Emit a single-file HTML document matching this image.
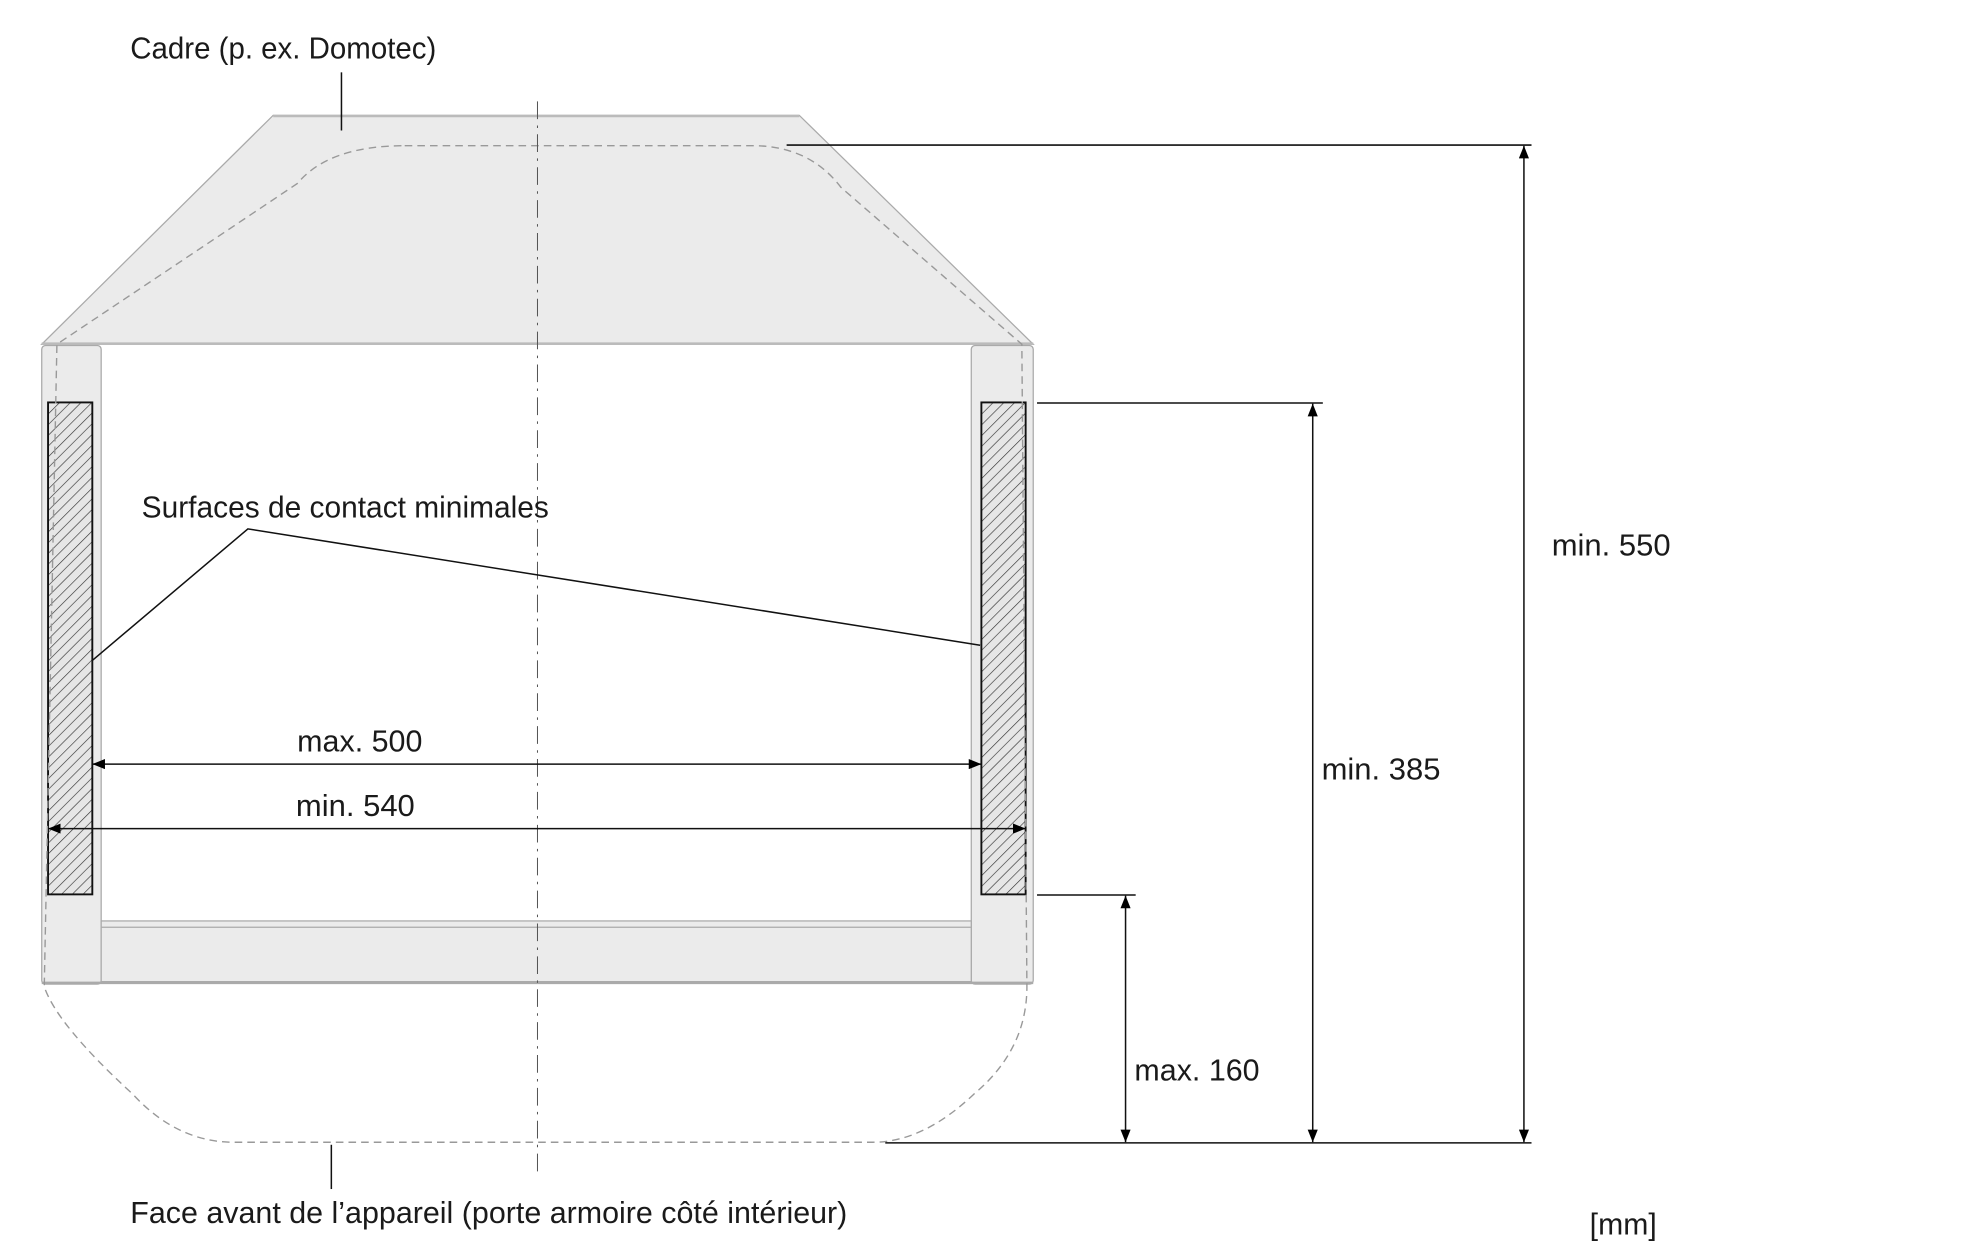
<!DOCTYPE html>
<html><head><meta charset="utf-8"><style>
html,body{margin:0;padding:0;background:#fff;}
svg{display:block;}
text{font-family:"Liberation Sans Narrow","Liberation Sans",sans-serif;font-size:24px;fill:#1a1a1a;}
</style></head><body>
<svg width="1983" height="1250" viewBox="0 0 1568 988" xmlns="http://www.w3.org/2000/svg">
<defs>
<pattern id="h" width="6" height="6" patternUnits="userSpaceOnUse" patternTransform="rotate(45)">
<rect width="6" height="6" fill="#e6e6e6"/><line x1="0" y1="0" x2="0" y2="6" stroke="#333" stroke-width="1"/>
</pattern>
<marker id="a" markerWidth="10" markerHeight="8" refX="10" refY="4" orient="auto" markerUnits="userSpaceOnUse"><path d="M0,0 L10,4 L0,8z" fill="#000"/></marker>
<marker id="s" markerWidth="10" markerHeight="8" refX="0" refY="4" orient="auto" markerUnits="userSpaceOnUse"><path d="M10,0 L0,4 L10,8z" fill="#000"/></marker>
</defs>
<path d="M216,91 L632,91 L817,272 L33,272 Z" fill="#ebebeb" stroke="#aaa" stroke-width="1"/>
<line x1="216" y1="91.5" x2="632" y2="91.5" stroke="#bbb" stroke-width="2"/>
<line x1="33" y1="271.5" x2="817" y2="271.5" stroke="#bbb" stroke-width="2"/>
<rect x="33" y="273" width="47" height="505" fill="#ebebeb" stroke="#aaa" stroke-width="1" rx="3"/>
<rect x="768" y="273" width="49" height="505" fill="#ebebeb" stroke="#aaa" stroke-width="1" rx="3"/>
<rect x="80" y="728" width="688" height="48" fill="#ebebeb" stroke="#aaa" stroke-width="1"/>
<line x1="80" y1="733" x2="768" y2="733" stroke="#aaa" stroke-width="1"/>
<line x1="33" y1="777" x2="817" y2="777" stroke="#aaa" stroke-width="2"/>
<rect x="38" y="318" width="35" height="389" fill="url(#h)" stroke="#111" stroke-width="1.5"/>
<rect x="776" y="318" width="35" height="389" fill="url(#h)" stroke="#111" stroke-width="1.5"/>
<path d="M320,115 L595,115 Q640,115 665,148 L808,272 L812,780 Q812,830 770,865 Q730,903 690,903 L185,903 Q140,903 105,865 Q45,810 35,780 L45,272 L235,145 Q260,115 320,115 Z" fill="none" stroke="#999" stroke-width="1.1" stroke-dasharray="6,4"/>
<line x1="425" y1="80" x2="425" y2="928" stroke="#555" stroke-width="0.8" stroke-dasharray="14,5,2,5"/>
<g stroke="#111" stroke-width="1.2" fill="none">
<line x1="622" y1="114.5" x2="1211" y2="114.5"/>
<line x1="700" y1="903.5" x2="1211" y2="903.5"/>
<line x1="820" y1="318.5" x2="1046" y2="318.5"/>
<line x1="820" y1="707.5" x2="898" y2="707.5"/>
<line x1="1205" y1="115" x2="1205" y2="903" marker-start="url(#s)" marker-end="url(#a)"/>
<line x1="1038" y1="319" x2="1038" y2="903" marker-start="url(#s)" marker-end="url(#a)"/>
<line x1="890" y1="708" x2="890" y2="903" marker-start="url(#s)" marker-end="url(#a)"/>
<line x1="73" y1="604" x2="776" y2="604" marker-start="url(#s)" marker-end="url(#a)"/>
<line x1="38" y1="655" x2="811" y2="655" marker-start="url(#s)" marker-end="url(#a)"/>
<line x1="270" y1="57" x2="270" y2="103"/>
<line x1="262" y1="905" x2="262" y2="940"/>
<polyline points="73,522 196,418 775,510"/>
</g>
<text x="103" y="46" textLength="242" lengthAdjust="spacingAndGlyphs">Cadre (p. ex. Domotec)</text>
<text x="112" y="409" textLength="322" lengthAdjust="spacingAndGlyphs">Surfaces de contact minimales</text>
<text x="235" y="594" textLength="99" lengthAdjust="spacingAndGlyphs">max. 500</text>
<text x="234" y="645" textLength="94" lengthAdjust="spacingAndGlyphs">min. 540</text>
<text x="1227" y="439" textLength="94" lengthAdjust="spacingAndGlyphs">min. 550</text>
<text x="1045" y="616" textLength="94" lengthAdjust="spacingAndGlyphs">min. 385</text>
<text x="897" y="854" textLength="99" lengthAdjust="spacingAndGlyphs">max. 160</text>
<text x="103" y="967" textLength="567" lengthAdjust="spacingAndGlyphs">Face avant de l’appareil (porte armoire côté intérieur)</text>
<text x="1257" y="976" textLength="53" lengthAdjust="spacingAndGlyphs">[mm]</text>
</svg>
</body></html>
